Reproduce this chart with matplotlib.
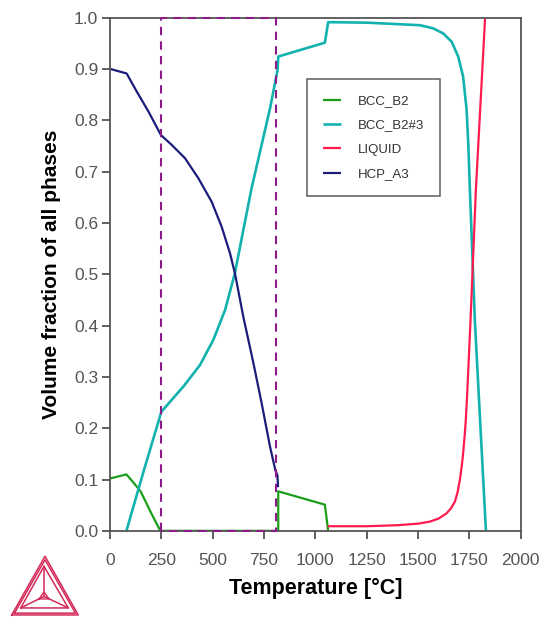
import matplotlib
matplotlib.use("Agg")
import matplotlib.pyplot as plt

plt.rcParams['font.family'] = ['Liberation Sans', 'DejaVu Sans']

# volume fraction curves (temperature in C, fraction)
bcc_b2_t = [0, 80, 110, 149, 200, 245, 819, 819, 1046, 1062]
bcc_b2_f = [0.102, 0.110, 0.096, 0.077, 0.035, 0.0, 0.0, 0.077, 0.051, 0.0]

bcc3_t = [80, 165, 250, 300, 357, 438, 503, 560, 608, 649, 689, 738, 779, 806, 816, 819,
          1046, 1062, 1250, 1509, 1573, 1622, 1663, 1695, 1719, 1736, 1744, 1752, 1776, 1830]
bcc3_f = [0.0, 0.118, 0.232, 0.255, 0.281, 0.323, 0.372, 0.430, 0.502, 0.586, 0.667, 0.752,
          0.823, 0.878, 0.898, 0.924, 0.951, 0.991, 0.990, 0.985, 0.979, 0.969, 0.953, 0.924,
          0.885, 0.820, 0.755, 0.664, 0.41, 0.0]

liquid_t = [1060, 1250, 1400, 1500, 1557, 1600, 1638, 1660, 1679, 1692, 1703, 1712, 1719,
            1726, 1732, 1738, 1744, 1755, 1781, 1826]
liquid_f = [0.009, 0.009, 0.011, 0.014, 0.018, 0.024, 0.034, 0.044, 0.057, 0.075, 0.099,
            0.125, 0.151, 0.183, 0.216, 0.26, 0.313, 0.41, 0.664, 1.0]

hcp_t = [0, 81, 130, 187, 248, 300, 365, 430, 495, 543, 584, 608, 649, 698, 738, 779, 805,
         815, 818]
hcp_f = [0.90, 0.891, 0.856, 0.817, 0.771, 0.752, 0.726, 0.687, 0.641, 0.593, 0.541, 0.502,
         0.417, 0.327, 0.249, 0.164, 0.118, 0.108, 0.085]

box_t = [250, 810]

fig = plt.figure(figsize=(5.5, 6.26), dpi=100)
ax = fig.add_axes([0.2, 0.152, 0.747, 0.82])

kw = dict(solid_joinstyle='round', solid_capstyle='butt')
ax.plot(bcc_b2_t, bcc_b2_f, color='#1A9E1A', lw=1.6, label='BCC_B2', **kw)
ax.plot(bcc3_t, bcc3_f, color='#12B2AE', lw=1.9, label='BCC_B2#3', **kw)
ax.plot(liquid_t, liquid_f, color='#FF1A50', lw=1.6, label='LIQUID', **kw)
ax.plot(hcp_t, hcp_f, color='#1C1C7C', lw=1.6, label='HCP_A3', **kw)

# dashed rectangle marking the range
ax.plot([box_t[0], box_t[0], box_t[1], box_t[1], box_t[0]], [0, 1, 1, 0, 0],
        color='#8E1A8A', lw=1.5, ls=(0, (4, 3)), zorder=5, clip_on=False)

ax.set_xlim(0, 2000)
ax.set_ylim(0, 1.0)
ax.set_xticks(range(0, 2001, 250))
ax.set_yticks([i / 10 for i in range(11)])
ax.set_yticklabels([f"{i / 10:.1f}" for i in range(11)])
ax.tick_params(direction='out', length=6, width=1.2, colors='#444444',
               labelcolor='#555555', labelsize=12.5)
ax.tick_params(axis='x', pad=10)
ax.tick_params(axis='y', pad=2.5)
for s in ax.spines.values():
    s.set_color('#555555')
    s.set_linewidth(1.3)

ax.set_xlabel('Temperature [°C]', fontsize=15.5, fontweight='bold', labelpad=7)
ax.set_ylabel('Volume fraction of all phases', fontsize=15, fontweight='bold', labelpad=9)

leg = ax.legend(loc='upper left', bbox_to_anchor=(0.479, 0.880), borderaxespad=0,
                fontsize=9.5, frameon=True, fancybox=False, borderpad=1.2,
                labelspacing=0.92, handlelength=1.4, handletextpad=1.3)
leg.get_frame().set_edgecolor('#333333')
leg.get_frame().set_linewidth(1.1)
for t in leg.get_texts():
    t.set_color('#333333')

# logo triangle in the lower left corner
lax = fig.add_axes([0.0, 0.0, 0.16, 0.125])
lax.set_xlim(0, 88)
lax.set_ylim(0, 78)
lax.axis('off')
lc = '#D42A58'
outer = [(11.7, 11), (78.3, 11), (45, 69.5), (11.7, 11)]
outer2 = [(14.5, 12.8), (75.5, 12.8), (45, 66), (14.5, 12.8)]
inner = [(20.7, 18), (68.3, 18), (44, 59.5), (20.7, 18)]
cen = (44, 29.5)
for tri in (outer, outer2, inner):
    lax.plot([p[0] for p in tri], [p[1] for p in tri], color=lc, lw=1.1)
for v in inner[:3]:
    lax.plot([cen[0], v[0]], [cen[1], v[1]], color=lc, lw=1.1)
small = [(39, 27), (49, 27), (44, 34), (39, 27)]
lax.plot([p[0] for p in small], [p[1] for p in small], color=lc, lw=1.0)

fig.savefig('out.png', dpi=100)
